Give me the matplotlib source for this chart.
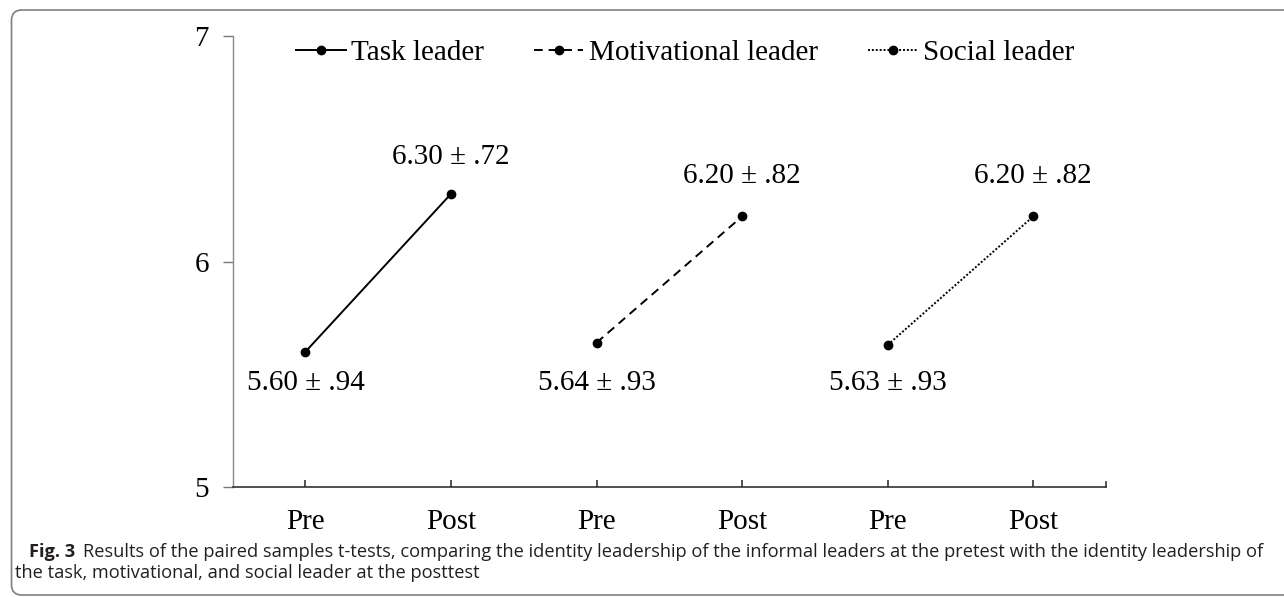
import matplotlib.pyplot as plt
from matplotlib.patches import FancyBboxPatch
from matplotlib.lines import Line2D

# data
categories = ["Pre", "Post", "Pre", "Post", "Pre", "Post"]
groups = ["Task leader", "Motivational leader", "Social leader"]
pre_means = [5.60, 5.64, 5.63]
post_means = [6.30, 6.20, 6.20]
pre_labels = ["5.60 ± .94", "5.64 ± .93", "5.63 ± .93"]
post_labels = ["6.30 ± .72", "6.20 ± .82", "6.20 ± .82"]
y_ticks = [5, 6, 7]

styles = ["-", (0, (4.5, 3)), (0, (1, 1))]
pre_off = [-22.3, -29.2, -27.4]   # label offsets in points
post_off = [26.6, 29.4, 29.4]
serif = ["Liberation Serif", "DejaVu Serif"]
caption_font = ["Open Sans", "DejaVu Sans"]
fs = 21

W, H = 1284, 597
fig = plt.figure(figsize=(W / 100, H / 100), dpi=100)
ax = fig.add_axes([232.7 / W, 1 - 487 / H, (1106 - 232.7) / W, (487 - 36) / H])

for i, g in enumerate(groups):
    xs = [2 * i + 1, 2 * i + 2]
    ax.plot(xs, [pre_means[i], post_means[i]], color="black", lw=1.4,
            linestyle=styles[i], marker="o", ms=6, label=g)
    ax.annotate(pre_labels[i], (xs[0], pre_means[i]), xytext=(0, pre_off[i]),
                textcoords="offset points", ha="center", va="center",
                fontsize=fs, family=serif)
    ax.annotate(post_labels[i], (xs[1], post_means[i]), xytext=(0, post_off[i]),
                textcoords="offset points", ha="center", va="center",
                fontsize=fs, family=serif)

ax.set_xlim(0.5, 6.5)
ax.set_ylim(5, 7)
ax.set_yticks(y_ticks)
ax.set_yticklabels([str(t) for t in y_ticks], fontsize=fs, family=serif)
ax.set_xticks(range(1, len(categories) + 1))
ax.set_xticklabels(categories, fontsize=fs, family=serif)
ax.tick_params(axis="x", direction="in", length=5, width=1.2, color="#333333", pad=16)
ax.tick_params(axis="y", direction="out", length=7, width=1.0, color="#777777", pad=10)
# extra tick at the right end of the x axis
ax.plot([6.5, 6.5], [0, 0.011], transform=ax.get_xaxis_transform(),
        color="#333333", lw=1.2, clip_on=False)
ax.spines["top"].set_visible(False)
ax.spines["right"].set_visible(False)
ax.spines["left"].set_color("#888888")
ax.spines["left"].set_linewidth(1.0)
ax.spines["bottom"].set_color("#333333")
ax.spines["bottom"].set_linewidth(1.2)

handles = [Line2D([], [], color="black", lw=1.4, linestyle=styles[i], marker="o", ms=6)
           for i in range(3)]
ax.legend(handles, groups, loc="center left",
          bbox_to_anchor=((296 - 232.7) / 873.3, (487 - 53) / 451), ncol=3,
          frameon=False, prop={"family": serif, "size": fs}, handlelength=1.7,
          handletextpad=0.2, columnspacing=1.7, borderpad=0, borderaxespad=0)

# frame around the figure
frame = FancyBboxPatch((11.5 / W, 2 / H), 1.2, (H - 12) / H,
                       boxstyle="round,pad=0,rounding_size=0.008",
                       transform=fig.transFigure, fill=False,
                       edgecolor="#7f7f7f", lw=1.2, mutation_aspect=W / H)
fig.patches.append(frame)

# caption, sized so the first line ends where it does in the figure
cap_col = "#231f20"
body1 = ("Results of the paired samples t-tests, comparing the identity leadership of the "
         "informal leaders at the pretest with the identity leadership of")
t1 = fig.text(29 / W, 1 - 552 / H, "Fig. 3", fontsize=13, weight="bold",
              family=caption_font, color=cap_col, va="center")
t2 = fig.text(0, 1 - 552 / H, body1, fontsize=13, family=caption_font,
              color=cap_col, va="center")
fig.canvas.draw()
r = fig.canvas.get_renderer()
w = t1.get_window_extent(r).width + 8 + t2.get_window_extent(r).width
cs = 13 * (1262 - 29) / w
t1.set_fontsize(cs)
t2.set_fontsize(cs)
fig.canvas.draw()
bb = t1.get_window_extent(r)
t2.set_x((bb.x1 + 8 * cs / 13) / W)
fig.text(15 / W, 1 - 573 / H, "the task, motivational, and social leader at the posttest",
         fontsize=cs, family=caption_font, color=cap_col, va="center")

fig.savefig("out.png", dpi=100)
